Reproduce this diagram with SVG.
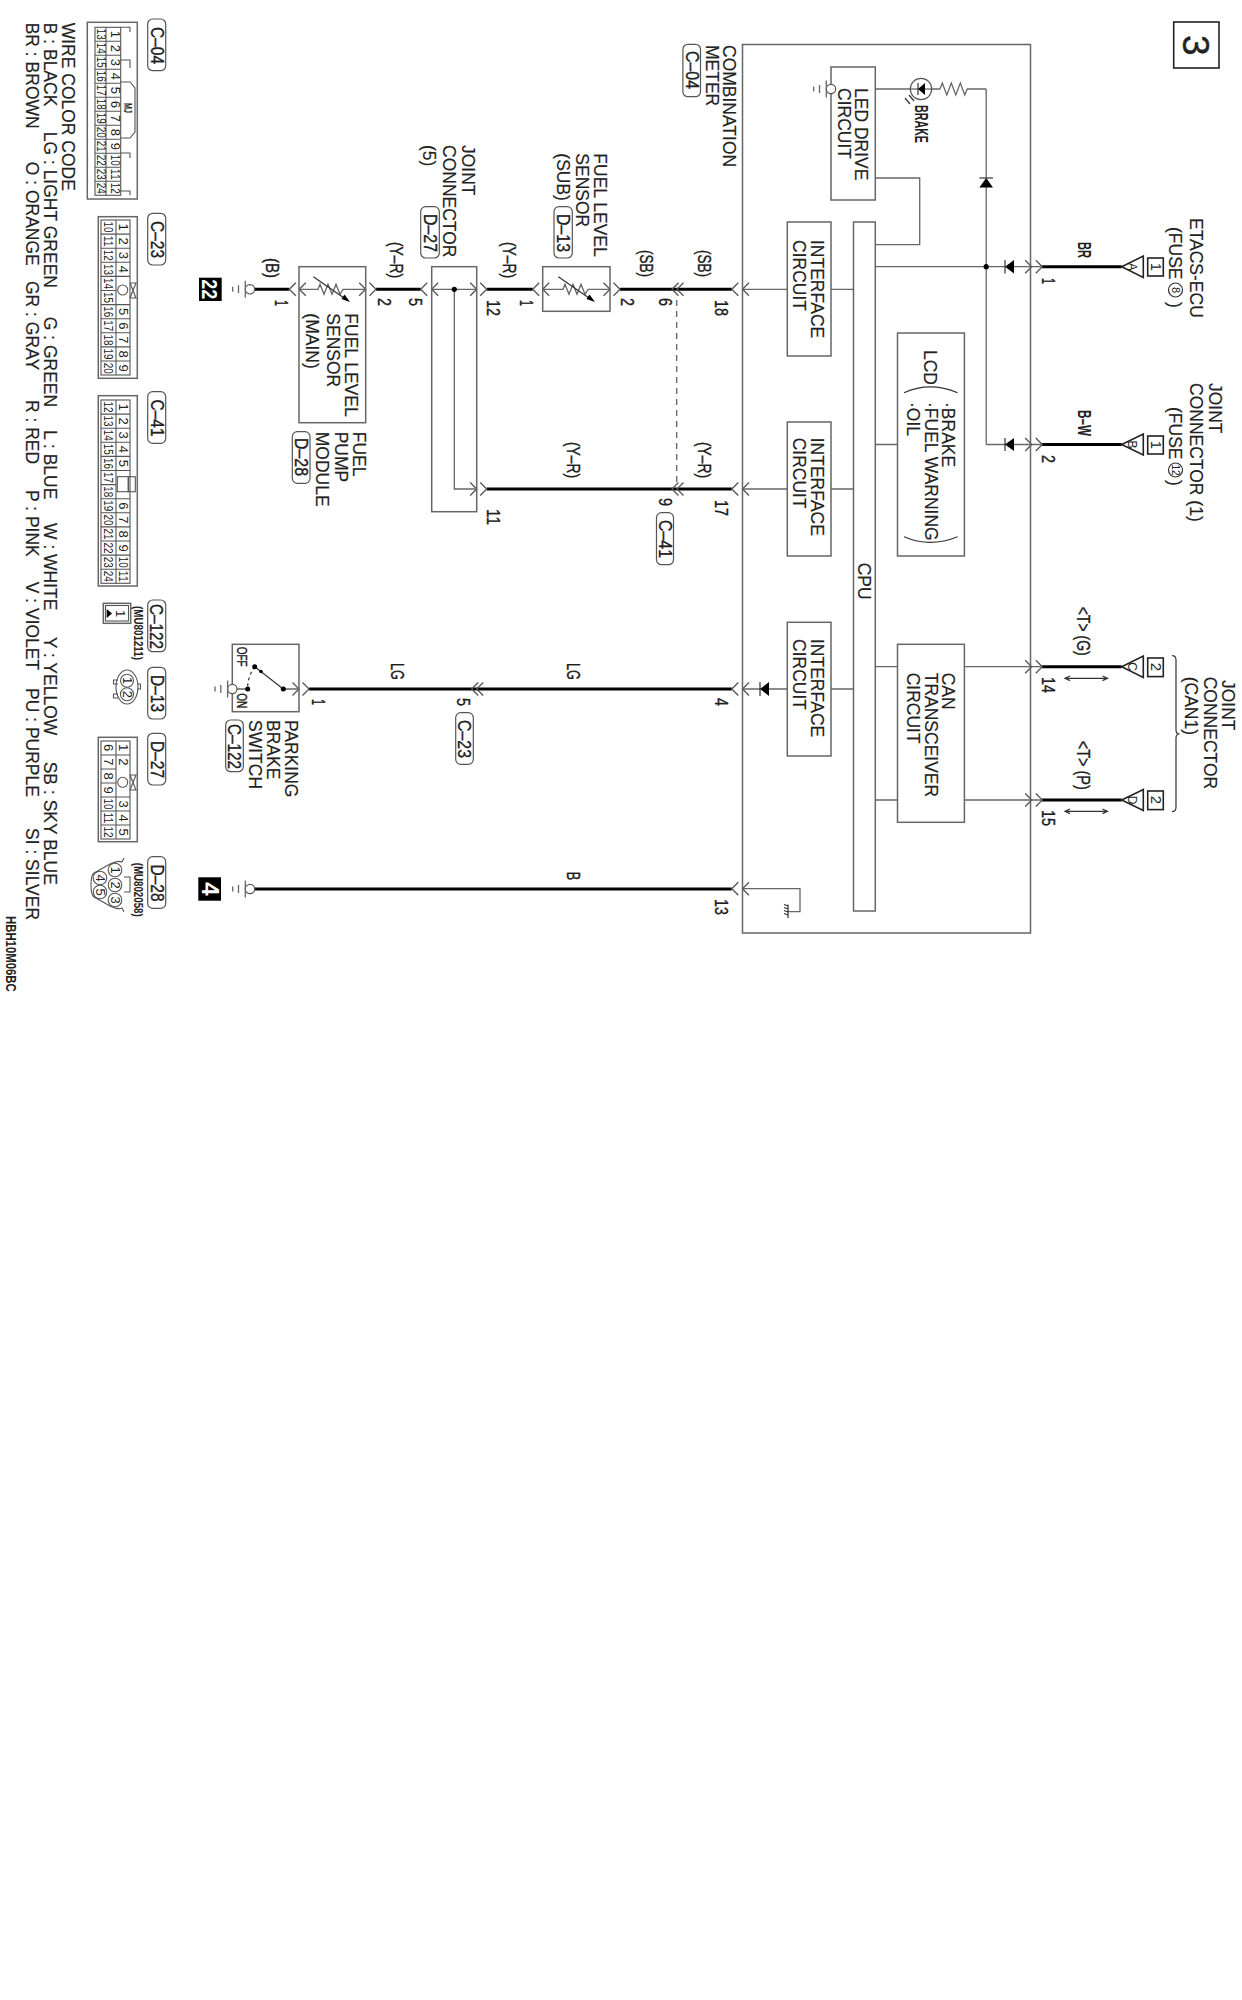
<svg xmlns="http://www.w3.org/2000/svg" width="1242" height="2000" viewBox="0 0 1242 2000">
<style>
text{font-family:"Liberation Sans",Arial,sans-serif;fill:#222}
.t{font-size:17.5px;stroke:#222;stroke-width:.15}
.p{font-size:19px;stroke:#111;stroke-width:.35}
.b{font-size:18px;font-weight:700}
.c{font-size:13px;text-anchor:middle}
.s{font-size:12px;font-weight:700}
.m{text-anchor:middle}
.box{fill:none;stroke:#666;stroke-width:1.5}
.thin{fill:none;stroke:#666;stroke-width:1.3}
.thick{fill:none;stroke:#000;stroke-width:3}
.ink{fill:none;stroke:#333;stroke-width:1.2}
.pl{fill:#fff;stroke:#222;stroke-width:1.6}
.fill{fill:#000;stroke:none}
.tag{fill:#fff;stroke:#555;stroke-width:1.2}
.chev{fill:none;stroke:#555;stroke-width:1.3}
.grid{fill:none;stroke:#555;stroke-width:1.1}
</style>
<defs>
<path id="cl" class="chev" d="M6.5 -6.5L0 0L6.5 6.5"/>
<path id="cr" class="chev" d="M-6.5 -6.5L0 0L-6.5 6.5"/>
<g id="gnd"><circle cx="0" cy="0" r="4.7" fill="#fff" stroke="#555" stroke-width="1.2"/><path class="thin" d="M-4.7 -8.5V8.5M-11.5 -4V4M-17.3 -2.5V2.5"/></g>
</defs>
<rect width="1242" height="2000" fill="#fff"/>

<g id="connectors">
<path class="thick" d="M254 289.3H289.3M376 289.3H420.7M486.7 289.3H532.7M620 289.3H731.8M486.7 489H731.8M309 689H731.8M254 889H731.8M1042 266.7H1121.7M1042 444.5H1121.7M1042 666.7H1121.7M1042 800H1121.7"/>
<path class="thin" d="M742.5 289.3H787.3M831 289.3H853.5M742.5 489H787.3M831 489H853.5M742.5 689H787.3M831 689H853.5M875.3 266.7H1042M875.3 444.5H897.5M986.2 444.5H1042M986.2 89V444.5M875.3 89H911M931 89H940M967 89H986.2M875.3 178H919.7V244.7H875.3M875.3 666.7H897.5M964.4 666.7H1042M875.3 800H897.5M964.4 800H1042M742.5 888.7H800V911.7H788"/>
<path class="thin" d="M676.7 300V482" stroke-dasharray="6 5"/>
<g id="chevrons">
<use href="#cr" x="1031.7" y="266.7"/><use href="#cr" x="1042.3" y="266.7"/>
<use href="#cr" x="1031.7" y="444.5"/><use href="#cr" x="1042.3" y="444.5"/>
<use href="#cr" x="1031.7" y="666.7"/><use href="#cr" x="1042.3" y="666.7"/>
<use href="#cr" x="1031.7" y="800"/><use href="#cr" x="1042.3" y="800"/>
<use href="#cl" x="731.8" y="289.3"/><use href="#cl" x="742.5" y="289.3"/>
<use href="#cl" x="731.8" y="489"/><use href="#cl" x="742.5" y="489"/>
<use href="#cl" x="731.8" y="689"/><use href="#cl" x="742.5" y="689"/>
<use href="#cl" x="731.8" y="888.7"/><use href="#cl" x="742.5" y="888.7"/>
<use href="#cl" x="672" y="289.3"/><use href="#cl" x="677" y="289.3"/>
<use href="#cl" x="672" y="489"/><use href="#cl" x="677" y="489"/>
<use href="#cl" x="471.7" y="689"/><use href="#cl" x="476.7" y="689"/>
<use href="#cr" x="299" y="689"/><use href="#cr" x="309" y="689"/>
<use href="#cl" x="289.3" y="289.3"/><use href="#cl" x="299.3" y="289.3"/>
<use href="#cr" x="365.7" y="289.3"/><use href="#cr" x="376" y="289.3"/>
<use href="#cl" x="420.7" y="289.3"/><use href="#cl" x="431.7" y="289.3"/>
<use href="#cr" x="476.7" y="289.3"/><use href="#cr" x="486.7" y="289.3"/>
<use href="#cl" x="532.7" y="289.3"/><use href="#cl" x="542.7" y="289.3"/>
<use href="#cr" x="610" y="289.3"/><use href="#cr" x="620" y="289.3"/>
<use href="#cr" x="476.7" y="489"/><use href="#cr" x="486.7" y="489"/>
</g>
<g id="wire-labels">
<text class="b" transform="translate(1078 242) rotate(90)" textLength="16" lengthAdjust="spacingAndGlyphs">BR</text>
<text class="b" transform="translate(1078 410) rotate(90)" textLength="26" lengthAdjust="spacingAndGlyphs">B–W</text>
<text class="p" transform="translate(1077 606.7) rotate(90)" textLength="49" lengthAdjust="spacingAndGlyphs">&lt;T&gt; (G)</text>
<text class="p" transform="translate(1077 740.7) rotate(90)" textLength="49" lengthAdjust="spacingAndGlyphs">&lt;T&gt; (P)</text>
<text class="p" transform="translate(698 250) rotate(90)" textLength="27" lengthAdjust="spacingAndGlyphs">(SB)</text>
<text class="p" transform="translate(639.5 250) rotate(90)" textLength="27" lengthAdjust="spacingAndGlyphs">(SB)</text>
<text class="p" transform="translate(698 442) rotate(90)" textLength="36" lengthAdjust="spacingAndGlyphs">(Y–R)</text>
<text class="p" transform="translate(566.7 442) rotate(90)" textLength="36" lengthAdjust="spacingAndGlyphs">(Y–R)</text>
<text class="p" transform="translate(503.3 242) rotate(90)" textLength="36" lengthAdjust="spacingAndGlyphs">(Y–R)</text>
<text class="p" transform="translate(390 242) rotate(90)" textLength="36" lengthAdjust="spacingAndGlyphs">(Y–R)</text>
<text class="p" transform="translate(266 258) rotate(90)" textLength="20" lengthAdjust="spacingAndGlyphs">(B)</text>
<text class="p" transform="translate(566.7 663) rotate(90)" textLength="17" lengthAdjust="spacingAndGlyphs">LG</text>
<text class="p" transform="translate(390.7 663) rotate(90)" textLength="17" lengthAdjust="spacingAndGlyphs">LG</text>
<text class="p" transform="translate(566.7 871.7) rotate(90)" textLength="8.5" lengthAdjust="spacingAndGlyphs">B</text>
</g>
<g id="pins">
<text class="p" transform="translate(1042 278) rotate(90)" textLength="6" lengthAdjust="spacingAndGlyphs">1</text>
<text class="p" transform="translate(1042 455) rotate(90)" textLength="8" lengthAdjust="spacingAndGlyphs">2</text>
<text class="p" transform="translate(1042 677) rotate(90)" textLength="16" lengthAdjust="spacingAndGlyphs">14</text>
<text class="p" transform="translate(1042 810) rotate(90)" textLength="16" lengthAdjust="spacingAndGlyphs">15</text>
<text class="p" transform="translate(714.6 300) rotate(90)" textLength="16" lengthAdjust="spacingAndGlyphs">18</text>
<text class="p" transform="translate(714.6 500) rotate(90)" textLength="16" lengthAdjust="spacingAndGlyphs">17</text>
<text class="p" transform="translate(714.6 698) rotate(90)" textLength="8" lengthAdjust="spacingAndGlyphs">4</text>
<text class="p" transform="translate(714.6 899) rotate(90)" textLength="16" lengthAdjust="spacingAndGlyphs">13</text>
<text class="p" transform="translate(658.5 298) rotate(90)" textLength="8" lengthAdjust="spacingAndGlyphs">6</text>
<text class="p" transform="translate(658.5 498) rotate(90)" textLength="8" lengthAdjust="spacingAndGlyphs">9</text>
<text class="p" transform="translate(620.7 298) rotate(90)" textLength="8" lengthAdjust="spacingAndGlyphs">2</text>
<text class="p" transform="translate(520 300) rotate(90)" textLength="6" lengthAdjust="spacingAndGlyphs">1</text>
<text class="p" transform="translate(486.7 300) rotate(90)" textLength="16" lengthAdjust="spacingAndGlyphs">12</text>
<text class="p" transform="translate(486.7 509) rotate(90)" textLength="16" lengthAdjust="spacingAndGlyphs">11</text>
<text class="p" transform="translate(409 298) rotate(90)" textLength="8" lengthAdjust="spacingAndGlyphs">5</text>
<text class="p" transform="translate(378.3 298) rotate(90)" textLength="8" lengthAdjust="spacingAndGlyphs">2</text>
<text class="p" transform="translate(275 300) rotate(90)" textLength="6" lengthAdjust="spacingAndGlyphs">1</text>
<text class="p" transform="translate(311.7 699) rotate(90)" textLength="6" lengthAdjust="spacingAndGlyphs">1</text>
<text class="p" transform="translate(457.3 698) rotate(90)" textLength="8" lengthAdjust="spacingAndGlyphs">5</text>
</g>
</g>

<g id="page-number"><rect x="1173.7" y="22" width="45.3" height="46" fill="none" stroke="#222" stroke-width="1.6"/><text transform="translate(1183 35) rotate(90)" font-size="37" stroke="#222" stroke-width=".4">3</text></g>

<g id="combination-meter">
<rect class="box" x="742.5" y="44.5" width="288" height="888.5"/>
<text class="t" transform="translate(723.4 45) rotate(90)">COMBINATION</text>
<text class="t" transform="translate(705.8 45) rotate(90)">METER</text>
<rect class="tag" x="682.9" y="44.3" width="17.6" height="52.4" rx="5"/>
<text class="p" transform="translate(685.5 51) rotate(90)" textLength="38" lengthAdjust="spacingAndGlyphs">C–04</text>
</g>
<g id="led-drive">
<rect class="box" x="831" y="67" width="44.3" height="133"/>
<text class="t" transform="translate(855.4 88) rotate(90)">LED DRIVE</text>
<text class="t" transform="translate(837.8 88) rotate(90)">CIRCUIT</text>
<use href="#gnd" x="831" y="89"/>
</g>
<g id="brake-lamp">
<circle cx="921" cy="89" r="10.7" fill="none" stroke="#555" stroke-width="1.2"/>
<path class="thin" d="M911 89H931"/>
<path class="fill" d="M918 89L925 83V95Z"/><path class="ink" d="M918 83V95"/>
<path class="thin" d="M940 89l2.3-6 4.5 12 4.5-12 4.5 12 4.5-12 4.5 12 2.3-6"/>
<path class="ink" d="M905 98l5 6M909 95l5 6"/>
<text class="b" transform="translate(914.7 105) rotate(90)" font-size="15" textLength="38" lengthAdjust="spacingAndGlyphs">BRAKE</text>
</g>
<g id="diodes">
<path class="fill" d="M986.2 178L993 187.5H979.4Z"/><path class="ink" d="M979.4 178H993"/>
<path class="fill" d="M1005 266.7L1014 260V273.4Z"/><path class="ink" d="M1005 260V273.4"/>
<path class="fill" d="M1005 444.5L1014 438V451Z"/><path class="ink" d="M1005 438V451"/>
<path class="fill" d="M760 689L769 682V696Z"/><path class="ink" d="M760 682V696"/>
<circle class="fill" cx="986.2" cy="266.7" r="2.6"/>
</g>
<g id="cpu">
<rect class="box" x="853.5" y="222" width="21.8" height="689"/>
<text class="t" transform="translate(857.5 562.7) rotate(90)">CPU</text>
</g>
<g id="interface-1"><rect class="box" x="787.3" y="222" width="43.7" height="134"/><text class="t" transform="translate(811 240) rotate(90)">INTERFACE</text><text class="t" transform="translate(793 240) rotate(90)">CIRCUIT</text></g>
<g id="interface-2"><rect class="box" x="787.3" y="422" width="43.7" height="134"/><text class="t" transform="translate(811 437.7) rotate(90)">INTERFACE</text><text class="t" transform="translate(793 437.7) rotate(90)">CIRCUIT</text></g>
<g id="interface-3"><rect class="box" x="787.3" y="622.3" width="43.7" height="133.7"/><text class="t" transform="translate(811 639) rotate(90)">INTERFACE</text><text class="t" transform="translate(793 639) rotate(90)">CIRCUIT</text></g>
<g id="lcd">
<rect class="box" x="897.5" y="333" width="66.9" height="223"/>
<text class="t" transform="translate(924 350) rotate(90)">LCD</text>
<path class="ink" d="M904 392.7Q930 381 957.6 392.7M904 536.7Q930 548 957.6 536.7"/>
<text class="t" transform="translate(942 402) rotate(90)">·BRAKE</text>
<text class="t" transform="translate(925 402) rotate(90)">·FUEL WARNING</text>
<text class="t" transform="translate(906.7 402) rotate(90)">·OIL</text>
</g>
<g id="can-transceiver">
<rect class="box" x="897.5" y="644.3" width="66.9" height="178"/>
<text class="t" transform="translate(942 672.7) rotate(90)">CAN</text>
<text class="t" transform="translate(925 672.7) rotate(90)">TRANSCEIVER</text>
<text class="t" transform="translate(906.7 672.7) rotate(90)">CIRCUIT</text>
</g>
<g id="meter-ground"><path class="ink" d="M788 904.5V918M788 906l-4 -1.5M788 909l-4 -1.5M788 912l-4 -1.5M788 915l-4 -1.5"/></g>

<g id="etacs-ecu">
<path class="pl" d="M1121.7 266.7L1143.3 256V277.4Z"/>
<text class="m" font-size="12" transform="translate(1128 266.7) rotate(90)">A</text>
<rect class="pl" x="1147.7" y="258" width="15.6" height="18"/>
<text class="m" font-size="15" transform="translate(1150.5 267) rotate(90)">1</text>
<text class="t" transform="translate(1189.8 218) rotate(90)">ETACS-ECU</text>
<text class="t" transform="translate(1169 227) rotate(90)">(FUSE</text>
<circle class="ink" cx="1175.5" cy="290" r="7"/>
<text class="m" font-size="11" transform="translate(1171.7 290) rotate(90)">8</text>
<text class="t" transform="translate(1169 302) rotate(90)">)</text>
</g>
<g id="joint-connector-1">
<path class="pl" d="M1121.7 444.5L1143.3 434V455Z"/>
<text class="m" font-size="12" transform="translate(1128 444.5) rotate(90)">B</text>
<rect class="pl" x="1147.7" y="436" width="15.6" height="18"/>
<text class="m" font-size="15" transform="translate(1150.5 445) rotate(90)">1</text>
<text class="t" transform="translate(1209 383) rotate(90)">JOINT</text>
<text class="t" transform="translate(1189.8 383) rotate(90)">CONNECTOR (1)</text>
<text class="t" transform="translate(1169 407) rotate(90)">(FUSE</text>
<circle class="ink" cx="1175.5" cy="470" r="7"/>
<text class="m" font-size="10" transform="translate(1172 470) rotate(90)">12</text>
<text class="t" transform="translate(1169 480) rotate(90)">)</text>
</g>
<g id="joint-connector-can1">
<path class="pl" d="M1121.7 666.7L1143.3 656V677.4Z"/>
<text class="m" font-size="12" transform="translate(1128 666.7) rotate(90)">C</text>
<rect class="pl" x="1147.7" y="658" width="15.6" height="18.6"/>
<text class="m" font-size="15" transform="translate(1150.5 667) rotate(90)">2</text>
<path class="pl" d="M1121.7 800L1143.3 789.5V810.5Z"/>
<text class="m" font-size="12" transform="translate(1128 800) rotate(90)">D</text>
<rect class="pl" x="1147.7" y="791" width="15.6" height="18.6"/>
<text class="m" font-size="15" transform="translate(1150.5 800) rotate(90)">2</text>
<path class="ink" d="M1172 655.7Q1176 655.7 1176 660V730Q1176 734 1179.5 734Q1176 734 1176 738V807Q1176 811.7 1172 811.7"/>
<text class="t" transform="translate(1222 680) rotate(90)">JOINT</text>
<text class="t" transform="translate(1204 676.7) rotate(90)">CONNECTOR</text>
<text class="t" transform="translate(1185 676.7) rotate(90)">(CAN1)</text>
<path class="ink" d="M1065 678.3H1107.5M1070 676l-5 2.3 5 2.3M1102.5 676l5 2.3-5 2.3M1065 811.3H1107.5M1070 809l-5 2.3 5 2.3M1102.5 809l5 2.3-5 2.3"/>
</g>

<g id="fuel-sensor-sub">
<rect class="box" x="542.7" y="266.7" width="67.3" height="44.6"/>
<path class="thin" d="M542.7 289.3H563l2-5 4 10 4-10 4 10 4-10 4 10 3-5H610"/>
<path class="ink" d="M558.3 276.7L592 300"/><path class="fill" d="M595 302l-8.5 -3 3 -4.5Z"/>
<text class="t" transform="translate(594 153.3) rotate(90)">FUEL LEVEL</text>
<text class="t" transform="translate(576 153.3) rotate(90)">SENSOR</text>
<text class="t" transform="translate(556.5 153.3) rotate(90)">(SUB)</text>
<rect class="tag" x="554" y="206.7" width="18.3" height="51.3" rx="5"/>
<text class="p" transform="translate(556.8 214) rotate(90)" textLength="38" lengthAdjust="spacingAndGlyphs">D–13</text>
</g>
<g id="joint-connector-5">
<rect class="box" x="431.7" y="266.7" width="45" height="245"/>
<path class="thin" d="M431.7 289.3H476.7M454.3 289.3V489H476.7"/>
<circle class="fill" cx="454.3" cy="289.3" r="2.6"/>
<text class="t" transform="translate(461.7 145) rotate(90)">JOINT</text>
<text class="t" transform="translate(443.3 145) rotate(90)">CONNECTOR</text>
<text class="t" transform="translate(423.3 145) rotate(90)">(5)</text>
<rect class="tag" x="420.7" y="206.7" width="18.6" height="51.3" rx="5"/>
<text class="p" transform="translate(423.5 214) rotate(90)" textLength="38" lengthAdjust="spacingAndGlyphs">D–27</text>
</g>
<g id="fuel-pump-module">
<rect class="box" x="299" y="266.7" width="66.7" height="156"/>
<path class="thin" d="M299 289.3H318l2-5 4 10 4-10 4 10 4-10 4 10 3-5H365.7"/>
<path class="ink" d="M313.3 276.7L347 300"/><path class="fill" d="M350 302l-8.5 -3 3 -4.5Z"/>
<text class="t" transform="translate(345 313.3) rotate(90)">FUEL LEVEL</text>
<text class="t" transform="translate(326.7 313.3) rotate(90)">SENSOR</text>
<text class="t" transform="translate(306 313.3) rotate(90)">(MAIN)</text>
<text class="t" transform="translate(352.7 431.7) rotate(90)">FUEL</text>
<text class="t" transform="translate(335 431.7) rotate(90)">PUMP</text>
<text class="t" transform="translate(316 431.7) rotate(90)">MODULE</text>
<rect class="tag" x="292.3" y="431.7" width="17.7" height="51.6" rx="5"/>
<text class="p" transform="translate(294.8 438) rotate(90)" textLength="38" lengthAdjust="spacingAndGlyphs">D–28</text>
</g>
<g id="ground-22">
<use href="#gnd" x="250" y="289.3"/>
<rect x="199" y="277.7" width="22.7" height="23.3" fill="#000"/>
<text transform="translate(202 279.3) rotate(90)" font-size="22" font-weight="700" style="fill:#fff" textLength="20" lengthAdjust="spacingAndGlyphs">22</text>
</g>
<g id="ground-4">
<use href="#gnd" x="250" y="889"/>
<rect x="198.3" y="877.3" width="22.7" height="23.4" fill="#000"/>
<text transform="translate(201.5 889) rotate(90)" class="m" font-size="24" font-weight="700" style="fill:#fff">4</text>
</g>
<g id="parking-brake-switch">
<rect class="box" x="232.3" y="644.3" width="66.7" height="67.4"/>
<use href="#gnd" x="232.3" y="689"/>
<path class="thin" d="M237 689H247.7M283.3 689H299"/>
<path class="ink" stroke-width="1.5" d="M283.3 689L254.7 666.7"/>
<path class="ink" d="M254.7 666.7Q247 678 247.7 689" stroke-dasharray="3 3"/>
<circle class="fill" cx="283.3" cy="689" r="2.5"/><circle class="fill" cx="247.7" cy="689" r="2.5"/><circle class="fill" cx="254.7" cy="666.7" r="2.5"/><circle class="fill" cx="261" cy="671.5" r="1.8"/>
<text class="p" transform="translate(237 646.7) rotate(90)" textLength="20" lengthAdjust="spacingAndGlyphs" style="font-size:15px">OFF</text>
<text class="p" transform="translate(237 693.3) rotate(90)" textLength="15" lengthAdjust="spacingAndGlyphs" style="font-size:15px">ON</text>
<text class="t" transform="translate(285 720) rotate(90)">PARKING</text>
<text class="t" transform="translate(266.7 720) rotate(90)">BRAKE</text>
<text class="t" transform="translate(249 720) rotate(90)">SWITCH</text>
<rect class="tag" x="225.7" y="720" width="17.6" height="51.7" rx="5"/>
<text class="p" transform="translate(228 724) rotate(90)" textLength="45" lengthAdjust="spacingAndGlyphs">C–122</text>
</g>
<g id="tag-c41"><rect class="tag" x="656.5" y="512.7" width="17" height="52" rx="5"/><text class="p" transform="translate(659 520) rotate(90)" textLength="38" lengthAdjust="spacingAndGlyphs">C–41</text></g>
<g id="tag-c23"><rect class="tag" x="455.7" y="712.7" width="17.6" height="51.6" rx="5"/><text class="p" transform="translate(458.2 720) rotate(90)" textLength="38" lengthAdjust="spacingAndGlyphs">C–23</text></g>

<g id="legend-c04">
<rect class="tag" x="147.7" y="19" width="18" height="51.7" rx="5"/><text class="p" transform="translate(150.5 27) rotate(90)" textLength="37" lengthAdjust="spacingAndGlyphs">C–04</text>
<rect class="box" x="87.3" y="22.3" width="50" height="176.7"/>
<rect class="grid" x="95" y="27.3" width="25.7" height="168"/>
<path class="grid" d="M106 27.3V195.3M95 41.3H120.7M95 55.3H120.7M95 69.3H120.7M95 83.3H120.7M95 97.3H120.7M95 111.3H120.7M95 125.3H120.7M95 139.3H120.7M95 153.3H120.7M95 167.3H120.7M95 181.3H120.7"/>
<path class="grid" d="M120.7 82H130L135 88V132L130 138H120.7M120.7 27.3H130V32M120.7 60H130V68M120.7 153H130V158M120.7 191H130V195.3"/>
<text transform="translate(124 103) rotate(90)" font-size="11" font-weight="700" textLength="10" lengthAdjust="spacingAndGlyphs">MJ</text>
<text class="c" transform="translate(110.7 34.3) rotate(90)">1</text><text class="c" transform="translate(110.7 48.3) rotate(90)">2</text><text class="c" transform="translate(110.7 62.3) rotate(90)">3</text><text class="c" transform="translate(110.7 76.3) rotate(90)">4</text><text class="c" transform="translate(110.7 90.3) rotate(90)">5</text><text class="c" transform="translate(110.7 104.3) rotate(90)">6</text><text class="c" transform="translate(110.7 118.3) rotate(90)">7</text><text class="c" transform="translate(110.7 132.3) rotate(90)">8</text><text class="c" transform="translate(110.7 146.3) rotate(90)">9</text><text class="c" transform="translate(110.7 160.3) rotate(90)" textLength="11" lengthAdjust="spacingAndGlyphs">10</text><text class="c" transform="translate(110.7 174.3) rotate(90)" textLength="11" lengthAdjust="spacingAndGlyphs">11</text><text class="c" transform="translate(110.7 188.3) rotate(90)" textLength="11" lengthAdjust="spacingAndGlyphs">12</text>
<text class="c" transform="translate(96.5 34.3) rotate(90)" textLength="11" lengthAdjust="spacingAndGlyphs">13</text><text class="c" transform="translate(96.5 48.3) rotate(90)" textLength="11" lengthAdjust="spacingAndGlyphs">14</text><text class="c" transform="translate(96.5 62.3) rotate(90)" textLength="11" lengthAdjust="spacingAndGlyphs">15</text><text class="c" transform="translate(96.5 76.3) rotate(90)" textLength="11" lengthAdjust="spacingAndGlyphs">16</text><text class="c" transform="translate(96.5 90.3) rotate(90)" textLength="11" lengthAdjust="spacingAndGlyphs">17</text><text class="c" transform="translate(96.5 104.3) rotate(90)" textLength="11" lengthAdjust="spacingAndGlyphs">18</text><text class="c" transform="translate(96.5 118.3) rotate(90)" textLength="11" lengthAdjust="spacingAndGlyphs">19</text><text class="c" transform="translate(96.5 132.3) rotate(90)" textLength="11" lengthAdjust="spacingAndGlyphs">20</text><text class="c" transform="translate(96.5 146.3) rotate(90)" textLength="11" lengthAdjust="spacingAndGlyphs">21</text><text class="c" transform="translate(96.5 160.3) rotate(90)" textLength="11" lengthAdjust="spacingAndGlyphs">22</text><text class="c" transform="translate(96.5 174.3) rotate(90)" textLength="11" lengthAdjust="spacingAndGlyphs">23</text><text class="c" transform="translate(96.5 188.3) rotate(90)" textLength="11" lengthAdjust="spacingAndGlyphs">24</text>
</g>
<g id="legend-c23">
<rect class="tag" x="147.7" y="213.3" width="18" height="51.7" rx="5"/><text class="p" transform="translate(150.5 221) rotate(90)" textLength="37" lengthAdjust="spacingAndGlyphs">C–23</text>
<rect class="box" x="98.3" y="216.7" width="39" height="161.6"/>
<rect class="grid" x="101" y="220" width="29" height="155"/>
<path class="grid" d="M101 234.1H116M101 248.2H116M101 262.3H116M101 276.4H116M101 290.5H116M101 304.6H116M101 318.7H116M101 332.8H116M101 346.9H116M101 361H116M116 234.1H130M116 248.2H130M116 262.3H130M116 276.4H130M116 304.6H130M116 318.7H130M116 332.8H130M116 346.9H130M116 361H130M116 220V375"/>
<circle class="grid" cx="122.7" cy="290" r="5"/>
<path class="grid" d="M130 283L136 298H130M130 298L136 283H130"/>
<text class="c" transform="translate(119 227) rotate(90)">1</text><text class="c" transform="translate(119 241.2) rotate(90)">2</text><text class="c" transform="translate(119 255.3) rotate(90)">3</text><text class="c" transform="translate(119 269.4) rotate(90)">4</text><text class="c" transform="translate(119 311.7) rotate(90)">5</text><text class="c" transform="translate(119 325.8) rotate(90)">6</text><text class="c" transform="translate(119 339.9) rotate(90)">7</text><text class="c" transform="translate(119 354) rotate(90)">8</text><text class="c" transform="translate(119 368.2) rotate(90)">9</text>
<text class="c" transform="translate(104 227) rotate(90)" textLength="11" lengthAdjust="spacingAndGlyphs">10</text><text class="c" transform="translate(104 241.2) rotate(90)" textLength="11" lengthAdjust="spacingAndGlyphs">11</text><text class="c" transform="translate(104 255.3) rotate(90)" textLength="11" lengthAdjust="spacingAndGlyphs">12</text><text class="c" transform="translate(104 269.4) rotate(90)" textLength="11" lengthAdjust="spacingAndGlyphs">13</text><text class="c" transform="translate(104 283.5) rotate(90)" textLength="11" lengthAdjust="spacingAndGlyphs">14</text><text class="c" transform="translate(104 297.6) rotate(90)" textLength="11" lengthAdjust="spacingAndGlyphs">15</text><text class="c" transform="translate(104 311.7) rotate(90)" textLength="11" lengthAdjust="spacingAndGlyphs">16</text><text class="c" transform="translate(104 325.8) rotate(90)" textLength="11" lengthAdjust="spacingAndGlyphs">17</text><text class="c" transform="translate(104 339.9) rotate(90)" textLength="11" lengthAdjust="spacingAndGlyphs">18</text><text class="c" transform="translate(104 354) rotate(90)" textLength="11" lengthAdjust="spacingAndGlyphs">19</text><text class="c" transform="translate(104 368.2) rotate(90)" textLength="11" lengthAdjust="spacingAndGlyphs">20</text>
</g>
<g id="legend-c41">
<rect class="tag" x="147.7" y="391.7" width="18" height="51.7" rx="5"/><text class="p" transform="translate(150.5 399.5) rotate(90)" textLength="37" lengthAdjust="spacingAndGlyphs">C–41</text>
<rect class="box" x="98.3" y="395.7" width="39" height="190.3"/>
<rect class="grid" x="101" y="400" width="29" height="183.3"/>
<path class="grid" d="M116 400V583.3M101 414.1H130M101 428.2H130M101 442.3H130M101 456.4H130M101 470.5H130M101 484.6H116M101 498.7H130M101 512.8H130M101 526.9H130M101 541H130M101 555.1H130M101 569.2H130"/>
<rect class="grid" x="117.3" y="476.7" width="11" height="15"/><rect class="grid" x="128.3" y="476.7" width="7" height="15"/>
<text class="c" transform="translate(119 407) rotate(90)">1</text><text class="c" transform="translate(119 421.1) rotate(90)">2</text><text class="c" transform="translate(119 435.2) rotate(90)">3</text><text class="c" transform="translate(119 449.3) rotate(90)">4</text><text class="c" transform="translate(119 463.4) rotate(90)">5</text><text class="c" transform="translate(119 505.8) rotate(90)">6</text><text class="c" transform="translate(119 519.9) rotate(90)">7</text><text class="c" transform="translate(119 534) rotate(90)">8</text><text class="c" transform="translate(119 548.1) rotate(90)">9</text><text class="c" transform="translate(119 562.2) rotate(90)" textLength="11" lengthAdjust="spacingAndGlyphs">10</text><text class="c" transform="translate(119 576.3) rotate(90)" textLength="11" lengthAdjust="spacingAndGlyphs">11</text>
<text class="c" transform="translate(104 407) rotate(90)" textLength="11" lengthAdjust="spacingAndGlyphs">12</text><text class="c" transform="translate(104 421.1) rotate(90)" textLength="11" lengthAdjust="spacingAndGlyphs">13</text><text class="c" transform="translate(104 435.2) rotate(90)" textLength="11" lengthAdjust="spacingAndGlyphs">14</text><text class="c" transform="translate(104 449.3) rotate(90)" textLength="11" lengthAdjust="spacingAndGlyphs">15</text><text class="c" transform="translate(104 463.4) rotate(90)" textLength="11" lengthAdjust="spacingAndGlyphs">16</text><text class="c" transform="translate(104 477.6) rotate(90)" textLength="11" lengthAdjust="spacingAndGlyphs">17</text><text class="c" transform="translate(104 491.7) rotate(90)" textLength="11" lengthAdjust="spacingAndGlyphs">18</text><text class="c" transform="translate(104 505.8) rotate(90)" textLength="11" lengthAdjust="spacingAndGlyphs">19</text><text class="c" transform="translate(104 519.9) rotate(90)" textLength="11" lengthAdjust="spacingAndGlyphs">20</text><text class="c" transform="translate(104 534) rotate(90)" textLength="11" lengthAdjust="spacingAndGlyphs">21</text><text class="c" transform="translate(104 548.1) rotate(90)" textLength="11" lengthAdjust="spacingAndGlyphs">22</text><text class="c" transform="translate(104 562.2) rotate(90)" textLength="11" lengthAdjust="spacingAndGlyphs">23</text><text class="c" transform="translate(104 576.3) rotate(90)" textLength="11" lengthAdjust="spacingAndGlyphs">24</text>
</g>
<g id="legend-c122">
<rect class="tag" x="147.7" y="600" width="18" height="51.7" rx="5"/><text class="p" transform="translate(150 604) rotate(90)" textLength="45" lengthAdjust="spacingAndGlyphs">C–122</text>
<text class="s" transform="translate(134 606) rotate(90)" textLength="54" lengthAdjust="spacingAndGlyphs">(MU801211)</text>
<rect class="box" x="103.3" y="603.3" width="27.4" height="20"/>
<rect class="grid" x="105.5" y="605.5" width="23" height="15.5"/>
<text class="c" transform="translate(116 613.5) rotate(90)">1</text>
<path class="fill" d="M112 613.5L106.7 609V618Z"/>
</g>
<g id="legend-d13">
<rect class="tag" x="147.7" y="667.3" width="18" height="51.7" rx="5"/><text class="p" transform="translate(150.5 675) rotate(90)" textLength="37" lengthAdjust="spacingAndGlyphs">D–13</text>
<path class="grid" d="M118 680H113.5V684H118M118 694H113.5V698H118M137 684H140.5V689H137"/>
<ellipse class="grid" cx="127" cy="687" rx="11" ry="17"/>
<circle class="grid" cx="127" cy="680.7" r="6.5"/><circle class="grid" cx="127" cy="694.3" r="6.5"/>
<text class="c" transform="translate(123 680.7) rotate(90)">1</text><text class="c" transform="translate(123 694.3) rotate(90)">2</text>
</g>
<g id="legend-d27">
<rect class="tag" x="147.7" y="733.3" width="18" height="51.7" rx="5"/><text class="p" transform="translate(150.5 741) rotate(90)" textLength="37" lengthAdjust="spacingAndGlyphs">D–27</text>
<rect class="box" x="98.3" y="737.3" width="39" height="104.4"/>
<rect class="grid" x="101" y="741" width="29" height="98"/>
<path class="grid" d="M116 741V839M101 755H116M101 769H116M101 783H116M101 797H116M101 811H116M101 825H116M116 755H130M116 797H130M116 811H130M116 825H130"/>
<circle class="grid" cx="122.7" cy="782.3" r="5"/>
<path class="grid" d="M130 775L136 790H130M130 790L136 775H130"/>
<text class="c" transform="translate(119 747.5) rotate(90)">1</text><text class="c" transform="translate(119 761.8) rotate(90)">2</text><text class="c" transform="translate(119 804) rotate(90)">3</text><text class="c" transform="translate(119 818) rotate(90)">4</text><text class="c" transform="translate(119 832) rotate(90)">5</text>
<text class="c" transform="translate(104 747.5) rotate(90)">6</text><text class="c" transform="translate(104 761.8) rotate(90)">7</text><text class="c" transform="translate(104 776) rotate(90)">8</text><text class="c" transform="translate(104 790) rotate(90)">9</text><text class="c" transform="translate(104 804) rotate(90)" textLength="11" lengthAdjust="spacingAndGlyphs">10</text><text class="c" transform="translate(104 818) rotate(90)" textLength="11" lengthAdjust="spacingAndGlyphs">11</text><text class="c" transform="translate(104 832) rotate(90)" textLength="11" lengthAdjust="spacingAndGlyphs">12</text>
</g>
<g id="legend-d28">
<rect class="tag" x="147.7" y="856.7" width="18" height="51.7" rx="5"/><text class="p" transform="translate(150.5 864.5) rotate(90)" textLength="37" lengthAdjust="spacingAndGlyphs">D–28</text>
<text class="s" transform="translate(134 862.7) rotate(90)" textLength="54" lengthAdjust="spacingAndGlyphs">(MU802058)</text>
<path class="grid" d="M124 858L122 862Q118 860 110 864L94 873Q91 875 91 885Q91 895 94 897L110 906Q118 910 122 908L124 912M124 877H130V892H124"/>
<circle class="grid" cx="115" cy="870" r="6.8"/><circle class="grid" cx="115" cy="885" r="6.8"/><circle class="grid" cx="115" cy="900" r="6.8"/><circle class="grid" cx="100" cy="878" r="6.8"/><circle class="grid" cx="100" cy="892" r="6.8"/>
<text class="c" transform="translate(111 870) rotate(90)">1</text><text class="c" transform="translate(111 885) rotate(90)">2</text><text class="c" transform="translate(111 900) rotate(90)">3</text><text class="c" transform="translate(96 878) rotate(90)">4</text><text class="c" transform="translate(96 892) rotate(90)">5</text>
</g>
<g id="wire-color-code">
<text class="t" transform="translate(61.7 22.7) rotate(90)">WIRE COLOR CODE</text>
<text class="t" transform="translate(44.3 22.7) rotate(90)">B : BLACK</text>
<text class="t" transform="translate(44.3 131.7) rotate(90)">LG : LIGHT GREEN</text>
<text class="t" transform="translate(44.3 316.7) rotate(90)">G : GREEN</text>
<text class="t" transform="translate(44.3 430) rotate(90)">L : BLUE</text>
<text class="t" transform="translate(44.3 523) rotate(90)">W : WHITE</text>
<text class="t" transform="translate(44.3 636.7) rotate(90)">Y : YELLOW</text>
<text class="t" transform="translate(44.3 761.7) rotate(90)">SB : SKY BLUE</text>
<text class="t" transform="translate(26 22.7) rotate(90)">BR : BROWN</text>
<text class="t" transform="translate(26 161.7) rotate(90)">O : ORANGE</text>
<text class="t" transform="translate(26 281) rotate(90)">GR : GRAY</text>
<text class="t" transform="translate(26 400) rotate(90)">R : RED</text>
<text class="t" transform="translate(26 490) rotate(90)">P : PINK</text>
<text class="t" transform="translate(26 581.7) rotate(90)">V : VIOLET</text>
<text class="t" transform="translate(26 688) rotate(90)">PU : PURPLE</text>
<text class="t" transform="translate(26 828) rotate(90)">SI : SILVER</text>
<text class="s" style="font-size:15px" transform="translate(6 916) rotate(90)" textLength="75.7" lengthAdjust="spacingAndGlyphs">HBH10M06BC</text>
</g>
</svg>
